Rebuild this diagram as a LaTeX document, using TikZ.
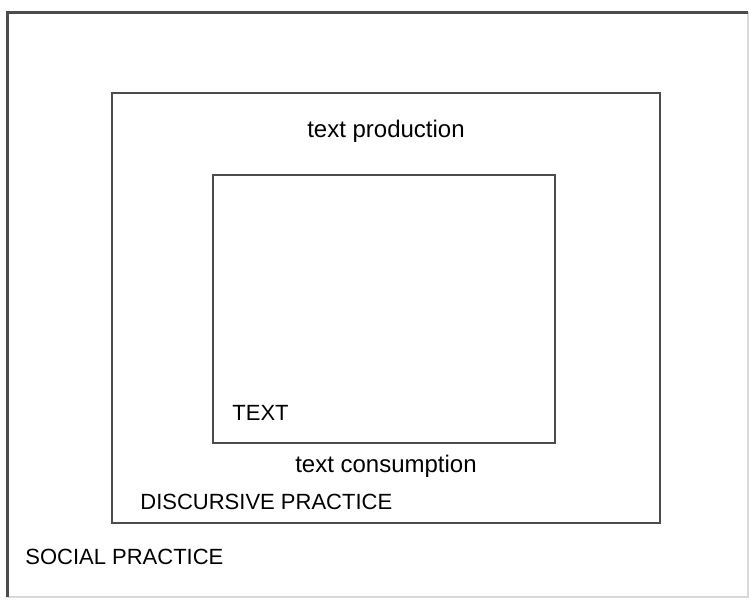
\documentclass[tikz,border=0pt]{standalone}
\usepackage{fontspec}
\setmainfont{Liberation Sans}
\usetikzlibrary{positioning}
\tikzset{box/.style={draw=black!70, line width=1.2pt},
         caplbl/.style={font=\fontsize{11}{13}\selectfont, inner sep=0pt, text=black},
         smalllbl/.style={font=\fontsize{12}{14}\selectfont, inner sep=0pt, text=black}}

\begin{document}
\begin{tikzpicture}[x=0.5pt, y=-0.5pt]
    \useasboundingbox (0,0) rectangle (749,600);
% social practice frame
    \coordinate (Snw) at (7,12);
    \coordinate (Sne) at (748,12);
    \coordinate (Ssw) at (7,597);
    \coordinate (Sse) at (748,597);
    \draw[black!15, line width=0.6pt] (Sne) -- (Sse) -- (Ssw);
    \draw[box, line width=1.5pt] (Ssw) -- (Snw) -- (Sne);
% discursive practice box
    \coordinate (Dnw) at (112,93);
    \coordinate (Dse) at (660,523);
    \draw[box] (Dnw) rectangle (Dse);
% text box
    \coordinate (Tnw) at (213,175);
    \coordinate (Tse) at (555,443);
    \draw[box] (Tnw) rectangle (Tse);

    \node[smalllbl] (prod) at (386,131) {text production};
    \node[smalllbl] (cons) at (386,466) {text consumption};
    \node[caplbl, anchor=west] (text) at (232,413) {TEXT};
    \node[caplbl, anchor=west] (disc) at (140,502) {DISCURSIVE PRACTICE};
    \node[caplbl, anchor=west] (soc) at (25,557) {SOCIAL PRACTICE};
\end{tikzpicture}
\end{document}
